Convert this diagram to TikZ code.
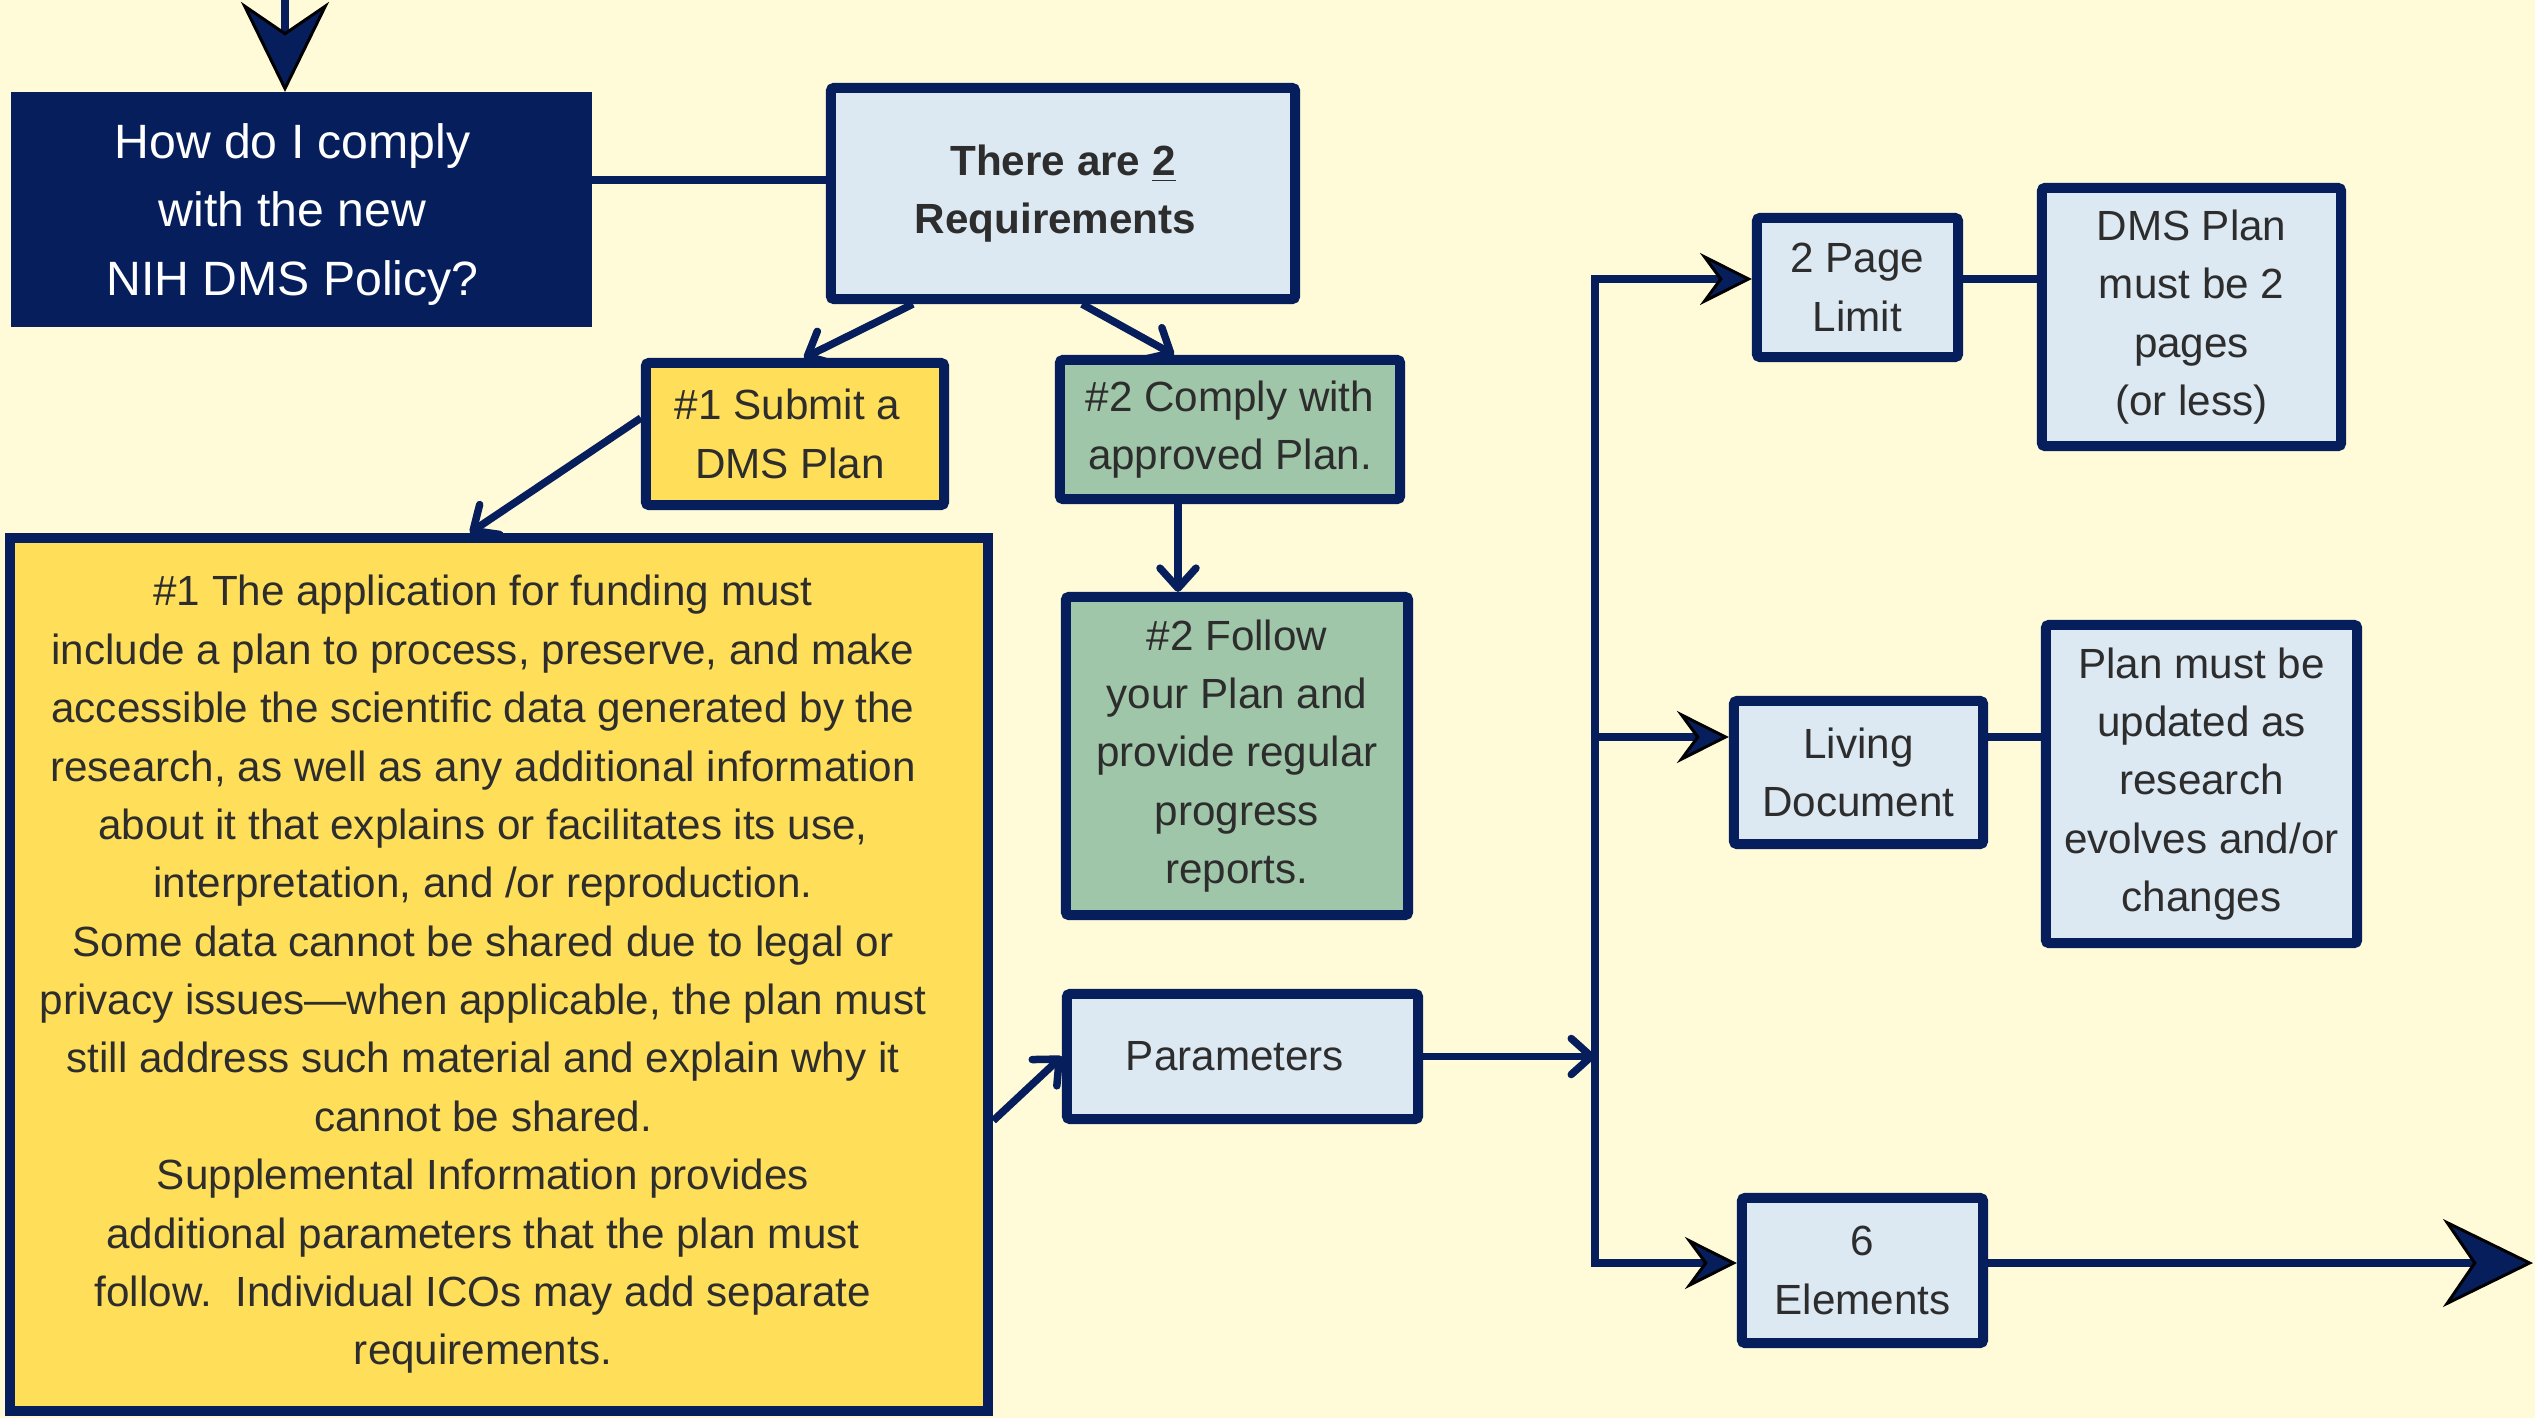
\documentclass[tikz,border=0pt]{standalone}
\usepackage{fontspec}
\setmainfont{Liberation Sans}
\definecolor{PaperBack}{HTML}{FFFAD8}
\definecolor{NavyLine}{HTML}{061E5C}
\definecolor{BoxBlue}{HTML}{DCE8F2}
\definecolor{BoxYellow}{HTML}{FFDE59}
\definecolor{BoxGreen}{HTML}{9FC6A8}
\definecolor{InkGrey}{HTML}{2D2D2D}
\usetikzlibrary{calc, arrows.meta}

\begin{document}
\begin{tikzpicture}[x=0.01cm, y=-0.01cm,
    box/.style={draw=NavyLine, line width=0.1cm, rounded corners=0.03cm, text=InkGrey, align=center, inner sep=0pt, font=\fontsize{12}{16.6}\selectfont},
    link/.style={draw=NavyLine, line width=0.075cm},
    barb/.style={link, -{Straight Barb[round, length=0.2cm, width=0.36cm]}},
    plug/.style={link, -{Stealth[length=0.52cm, width=0.52cm, inset=0.19cm, color=black, fill=NavyLine, line width=0.03cm]}},
    bigplug/.style={link, -{Stealth[length=0.9cm, width=0.88cm, inset=0.3cm, color=black, fill=NavyLine, line width=0.03cm]}}]

    \path[use as bounding box, fill=PaperBack] (0,0) rectangle (2535,1418);

    % Pregunta y requisitos
    \node[box, fill=NavyLine, rounded corners=0pt, minimum width=5.71cm, minimum height=2.25cm] (ask) at (301.5,209.5) {};
    \node[text=white, align=center, inner sep=0pt, font=\fontsize{13.7}{19.6}\selectfont] (ask text) at ([shift={(-0.09cm,-0.05cm)}]ask.center) {How do I comply\\with the new\\NIH DMS Policy?};
    \node[box, fill=BoxBlue, minimum width=4.64cm, minimum height=2.11cm, font=\fontsize{12}{16.5}\selectfont\bfseries] (reqs) at (1063,193.5) {There are \underline{2}\\Requirements\hspace*{0.15cm}};
    \node[box, fill=BoxYellow, minimum width=2.98cm, minimum height=1.42cm] (submit) at (795,434) {\#1 Submit a\hspace*{0.15cm}\\DMS Plan\hspace*{0.1cm}};
    \node[box, fill=BoxGreen, minimum width=3.40cm, minimum height=1.39cm] (comply) at (1230,429.5) {\#2 Comply with\\approved Plan.};
    \node[box, fill=BoxGreen, minimum width=3.42cm, minimum height=3.18cm] (follow) at (1237,756) {\#2 Follow\\your Plan and\\provide regular\\progress\\reports.};

    % Texto largo del requisito 1
    \node[box, fill=BoxYellow, rounded corners=0pt, minimum width=9.78cm, minimum height=8.73cm] (funding) at (499,974.5) {};
    \node[text=InkGrey, align=center, inner sep=0pt, font=\fontsize{12}{16.6}\selectfont] (funding text) at ([xshift=-0.16cm]funding.center) {\#1 The application for funding must\\include a plan to process, preserve, and make\\accessible the scientific data generated by the\\research, as well as any additional information\\about it that explains or facilitates its use,\\interpretation, and /or reproduction.\\Some data cannot be shared due to legal or\\privacy issues—when applicable, the plan must\\still address such material and explain why it\\cannot be shared.\\Supplemental Information provides\\additional parameters that the plan must\\follow.\ \ Individual ICOs may add separate\\requirements.};

    % Parametros
    \node[box, fill=BoxBlue, minimum width=3.51cm, minimum height=1.25cm] (params) at (1242.5,1056.5) {Parameters\hspace*{0.15cm}};
    \node[box, fill=BoxBlue, minimum width=2.01cm, minimum height=1.39cm] (pagelimit) at (1857.5,287.5) {2 Page\\Limit};
    \node[box, fill=BoxBlue, minimum width=2.99cm, minimum height=2.58cm] (twopages) at (2191.5,317) {DMS Plan\\must be 2\\pages\\(or less)};
    \node[box, fill=BoxBlue, minimum width=2.49cm, minimum height=1.43cm] (living) at (1858.5,772.5) {Living\\Document};
    \node[box, fill=BoxBlue, minimum width=3.11cm, minimum height=3.18cm] (updated) at (2201.5,784) {Plan must be\\updated as\\research\\evolves and/or\\changes};
    \node[box, fill=BoxBlue, minimum width=2.41cm, minimum height=1.45cm] (elements) at (1862.5,1270.5) {6\\Elements};

    % Flechas de la parte izquierda
    \coordinate (entry) at (285,0);
    \draw[bigplug] (entry) -- (entry |- ask.north);
    \draw[link] (ask.east |- 0,180) -- (reqs.west |- 0,180);
    \draw[barb] ([xshift=-1.5cm]reqs.south) -- ([xshift=0.09cm]submit.north);
    \draw[barb] ([xshift=0.19cm]reqs.south) -- ([xshift=-0.56cm]comply.north);
    \draw[barb] ([yshift=0.16cm]submit.west) -- ([xshift=-0.29cm]funding.north);
    \draw[barb] (comply.south -| 1178,0) -- (follow.north -| 1178,0);
    \draw[barb] ([yshift=-1.46cm]funding.east) -- (params.west);

    % Ramas a la derecha
    \coordinate (s1) at (1595,279);
    \coordinate (s2) at (1595,737);
    \coordinate (s3) at (1595,1263);
    \coordinate (exit) at (2533,1263);

    \draw[barb] (params.east) -- (params.east -| s1);
    \draw[link, line cap=rect] (s1) -- (s3);
    \draw[plug] (s1) -- (s1 -| pagelimit.west);
    \draw[plug] (s2) -- (s2 -| living.west);
    \draw[plug] (s3) -- (s3 -| elements.west);
    \draw[link] (s1 -| pagelimit.east) -- (s1 -| twopages.west);
    \draw[link] (s2 -| living.east) -- (s2 -| updated.west);
    \draw[bigplug] (s3 -| elements.east) -- (exit);

\end{tikzpicture}
\end{document}
